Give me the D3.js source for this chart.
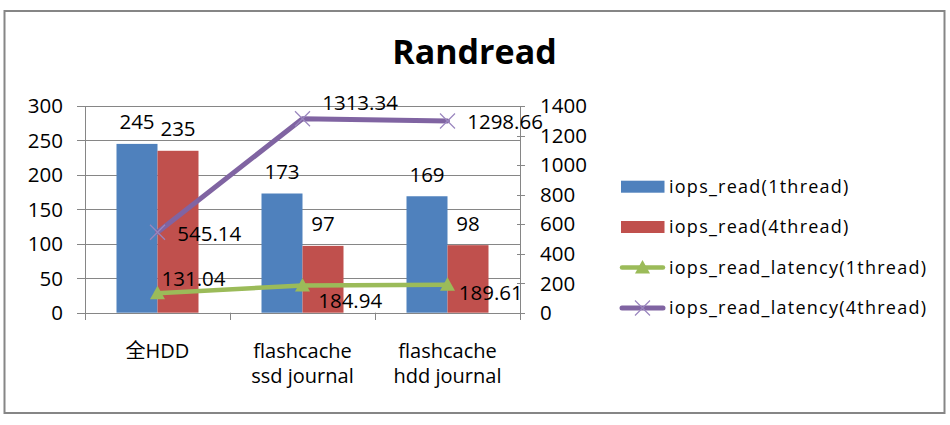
<!DOCTYPE html>
<html><head><meta charset="utf-8">
<script src="https://cdn.jsdelivr.net/npm/d3@7"></script>
<style>
body{margin:0;background:#fff}
text{font-family:"Open Sans","Noto Sans CJK SC",sans-serif;fill:#000}
</style></head>
<body><svg id="c" width="950" height="425"></svg>
<script>
// ---- data ----
const categories = ["全HDD", "flashcache\nssd journal", "flashcache\nhdd journal"];
const iopsRead1 = [245, 173, 169];
const iopsRead4 = [235, 97, 98];
const latency1 = [131.04, 184.94, 189.61];
const latency4 = [545.14, 1313.34, 1298.66];
const leftTicks = [0, 50, 100, 150, 200, 250, 300];
const rightTicks = [0, 200, 400, 600, 800, 1000, 1200, 1400];
const seriesNames = ["iops_read(1thread)", "iops_read(4thread)", "iops_read_latency(1thread)", "iops_read_latency(4thread)"];
const title = "Randread";

// ---- layout / style ----
const colors = ["#4F81BD", "#C0504D", "#9BBB59", "#8064A2"];
const grid = "#868686";
const lat1LabelOff = [[4, -14.5], [15.7, 15], [11.3, 8]];
const lat4LabelOff = [[19.8, 1], [19.7, -16], [19.7, 1]];

const svg = d3.select("#c");
svg.append("rect").attr("x", 4.5).attr("y", 11).attr("width", 940).attr("height", 402)
  .attr("fill", "#fff").attr("stroke", grid).attr("stroke-width", 2);

svg.append("text").attr("x", 474.5).attr("y", 63.5).attr("text-anchor", "middle")
  .attr("font-size", 34).attr("font-weight", "bold").text(title);

const L = 85, R = 520, T = 106, B = 312.7;
const x = d3.scaleBand().domain(categories).range([L, R]).padding(0);
const yL = d3.scaleLinear().domain([0, 300]).range([B, T]);
const yR = d3.scaleLinear().domain([0, 1400]).range([B, T]);
const bw = x.bandwidth();
const xs = d3.scaleBand().domain([0, 1]).range([bw / 2 - 41, bw / 2 + 41]).padding(0);
const cx = c => x(c) + bw / 2;
const px = v => Math.round(v) + 0.5;

// gridlines
svg.append("g").selectAll("line").data(leftTicks).join("line")
  .attr("x1", L).attr("x2", R).attr("y1", d => px(yL(d))).attr("y2", d => px(yL(d)))
  .attr("stroke", grid).attr("stroke-width", 1);

// left axis
svg.append("line").attr("x1", px(L)).attr("x2", px(L)).attr("y1", T).attr("y2", 320).attr("stroke", grid);
svg.append("g").selectAll("line").data(leftTicks).join("line")
  .attr("x1", 77).attr("x2", L).attr("y1", d => px(yL(d))).attr("y2", d => px(yL(d))).attr("stroke", grid);
svg.append("g").selectAll("text").data(leftTicks).join("text")
  .attr("x", 63).attr("y", d => yL(d)).attr("dy", "0.36em").attr("text-anchor", "end")
  .attr("font-size", 20.5).text(d => d);

// right axis
svg.append("line").attr("x1", px(R)).attr("x2", px(R)).attr("y1", T).attr("y2", 320).attr("stroke", grid);
svg.append("g").selectAll("line").data(rightTicks).join("line")
  .attr("x1", R - 3).attr("x2", R + 5).attr("y1", d => px(yR(d))).attr("y2", d => px(yR(d))).attr("stroke", grid);
svg.append("g").selectAll("text").data(rightTicks).join("text")
  .attr("x", 540).attr("y", d => yR(d)).attr("dy", "0.36em").attr("text-anchor", "start")
  .attr("font-size", 20.5).text(d => d);

// category ticks
const bounds = categories.map(c => x(c)).concat([R]);
svg.append("g").selectAll("line").data(bounds).join("line")
  .attr("x1", d => px(d)).attr("x2", d => px(d)).attr("y1", B).attr("y2", 320).attr("stroke", grid);

// category labels
categories.forEach(c => {
  const lines = c.split("\n");
  const t = svg.append("text").attr("text-anchor", "middle").attr("font-size", 20);
  lines.forEach((ln, i) => {
    t.append("tspan").attr("x", cx(c)).attr("y", 358 + i * 25.3).text(ln);
  });
});

// bars
[iopsRead1, iopsRead4].forEach((vals, si) => {
  const g = svg.append("g");
  g.selectAll("rect").data(vals).join("rect")
    .attr("x", (d, i) => x(categories[i]) + xs(si)).attr("width", xs.bandwidth())
    .attr("y", d => yL(d)).attr("height", d => B - yL(d)).attr("fill", colors[si]);
  g.selectAll("text").data(vals).join("text")
    .attr("x", (d, i) => x(categories[i]) + xs(si) + xs.bandwidth() / 2)
    .attr("y", d => yL(d) - 22).attr("dy", "0.36em").attr("text-anchor", "middle")
    .attr("font-size", 20.5).text(d => d);
});

// lines
const lineGen = d3.line().x((d, i) => cx(categories[i])).y(d => yR(d));
svg.append("path").datum(latency4).attr("d", lineGen).attr("fill", "none")
  .attr("stroke", colors[3]).attr("stroke-width", 5).attr("stroke-linejoin", "round").attr("stroke-linecap", "round");
svg.append("path").datum(latency1).attr("d", lineGen).attr("fill", "none")
  .attr("stroke", colors[2]).attr("stroke-width", 4.5).attr("stroke-linejoin", "round").attr("stroke-linecap", "round");

function triangle(g, X, Y) {
  g.append("path").attr("d", `M${X},${Y - 7.5}L${X + 7.5},${Y + 6}L${X - 7.5},${Y + 6}Z`).attr("fill", colors[2]);
}
function cross(g, X, Y) {
  g.append("path").attr("d", `M${X - 7.5},${Y - 7.5}L${X + 7.5},${Y + 7.5}M${X - 7.5},${Y + 7.5}L${X + 7.5},${Y - 7.5}`)
    .attr("stroke", "#9A86BE").attr("stroke-width", 1.2).attr("fill", "none");
}
const mk = svg.append("g");
latency4.forEach((v, i) => cross(mk, cx(categories[i]), yR(v)));
latency1.forEach((v, i) => triangle(mk, cx(categories[i]), yR(v)));

// line labels
latency4.forEach((v, i) => {
  svg.append("text").attr("x", cx(categories[i]) + lat4LabelOff[i][0]).attr("y", yR(v) + lat4LabelOff[i][1])
    .attr("dy", "0.36em").attr("font-size", 20.5).text(v.toFixed(2));
});
latency1.forEach((v, i) => {
  svg.append("text").attr("x", cx(categories[i]) + lat1LabelOff[i][0]).attr("y", yR(v) + lat1LabelOff[i][1])
    .attr("dy", "0.36em").attr("font-size", 20.5).text(v.toFixed(2));
});

// legend
const rowY = [186.7, 227, 267.5, 308];
const lg = svg.append("g");
seriesNames.forEach((name, i) => {
  const yy = rowY[i];
  if (i < 2) {
    lg.append("rect").attr("x", 621).attr("y", yy - 6).attr("width", 43.5).attr("height", 12).attr("fill", colors[i]);
  } else {
    lg.append("line").attr("x1", 622).attr("x2", 663).attr("y1", yy).attr("y2", yy)
      .attr("stroke", colors[i]).attr("stroke-width", i === 2 ? 4.5 : 5).attr("stroke-linecap", "round");
    if (i === 2) triangle(lg, 642.5, yy); else cross(lg, 642.5, yy);
  }
  lg.append("text").attr("x", 669).attr("y", yy).attr("dy", "0.36em")
    .attr("font-size", 18).attr("letter-spacing", 1.25).text(name);
});
</script></body></html>
